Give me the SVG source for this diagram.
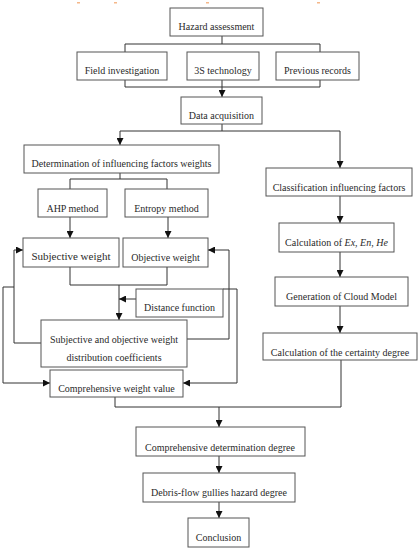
<svg xmlns="http://www.w3.org/2000/svg" width="420" height="550" viewBox="0 0 420 550">
<style>
.box{fill:#fff;stroke:#555;stroke-width:1}
.t{font-family:"Liberation Serif","Times New Roman",serif;font-size:10px;fill:#2a2a2a;text-anchor:middle}
.c{fill:none;stroke:#333;stroke-width:1}
.a{marker-end:url(#ah)}
</style>
<defs>
<marker id="ah" markerWidth="7" markerHeight="7" refX="7" refY="3.5" orient="auto" markerUnits="userSpaceOnUse">
<path d="M0,0 L7,3.5 L0,7 Z" fill="#111"/>
</marker>
</defs>
<rect width="420" height="550" fill="#fff"/>
<g fill="#f5b88a">
<rect x="77" y="2" width="3" height="1.5"/><rect x="114" y="2" width="3" height="1.5"/><rect x="206" y="2" width="3" height="1.5"/><rect x="317" y="2" width="3" height="1.5"/>
</g>
<g id="connectors">
<path class="c" d="M222 36 V44 M125 52 V44 H320 V52"/>
<path class="c" d="M125 80 V87 H320 V80"/>
<path class="c a" d="M222 80 V97"/>
<path class="c" d="M222 124 V131 M120 131 H340"/>
<path class="c a" d="M120 131 V145"/>
<path class="c a" d="M340 131 V168"/>
<path class="c" d="M120 173 V179 M70 189 V179 H167 V189"/>
<path class="c a" d="M70 217 V238"/>
<path class="c a" d="M168 217 V238"/>
<path class="c" d="M70 267 V285 H167 V267"/>
<path class="c a" d="M119 285 V320"/>
<path class="c a" d="M136 299 H119"/>
<path class="c a" d="M41 343 H14 V250 H23"/>
<path class="c a" d="M187 339 H229 V250 H208"/>
<path class="c a" d="M14 287 H3 V383 H50"/>
<path class="c a" d="M223 289 H237 V383 H183"/>
<path class="c a" d="M340 196 V223"/>
<path class="c a" d="M340 252 V277"/>
<path class="c a" d="M340 306 V333"/>
<path class="c" d="M115 397 V407 H341 V360"/>
<path class="c a" d="M219 407 V427"/>
<path class="c a" d="M219 456 V473"/>
<path class="c a" d="M219 502 V518"/>
</g>
<g id="hazard"><rect class="box" x="170" y="8" width="93" height="28"/><text class="t" x="216.5" y="29.5">Hazard assessment</text></g>
<g id="field"><rect class="box" x="77" y="52" width="90" height="28"/><text class="t" x="122" y="73.5">Field investigation</text></g>
<g id="tech3s"><rect class="box" x="187" y="52" width="72" height="28"/><text class="t" x="223" y="74">3S technology</text></g>
<g id="previous"><rect class="box" x="276" y="52" width="83" height="28"/><text class="t" x="317.5" y="73.5">Previous records</text></g>
<g id="data"><rect class="box" x="181" y="97" width="81" height="27"/><text class="t" x="221.5" y="118.5">Data acquisition</text></g>
<g id="determination"><rect class="box" x="24" y="145" width="195" height="28"/><text class="t" x="121.5" y="166.5">Determination of influencing factors weights</text></g>
<g id="classification"><rect class="box" x="266" y="168" width="146" height="28"/><text class="t" x="339" y="190.5">Classification influencing factors</text></g>
<g id="ahp"><rect class="box" x="38" y="189" width="69" height="28"/><text class="t" x="72.5" y="211.5">AHP method</text></g>
<g id="entropy"><rect class="box" x="125" y="189" width="83" height="28"/><text class="t" x="166.5" y="211.5">Entropy method</text></g>
<g id="subjective"><rect class="box" x="23" y="238" width="96" height="29"/><text class="t" x="71" y="260" style="font-size:11px">Subjective weight</text></g>
<g id="objective"><rect class="box" x="123" y="238" width="85" height="29"/><text class="t" x="165.5" y="260.5">Objective weight</text></g>
<g id="calcex"><rect class="box" x="279" y="223" width="115" height="29"/><text class="t" x="336.5" y="245.5">Calculation of <tspan font-style="italic">Ex</tspan>, <tspan font-style="italic">En</tspan>, <tspan font-style="italic">He</tspan></text></g>
<g id="distance"><rect class="box" x="136" y="289" width="87" height="28"/><text class="t" x="179.5" y="310.5">Distance function</text></g>
<g id="generation"><rect class="box" x="275" y="277" width="133" height="29"/><text class="t" x="341.5" y="299.5">Generation of Cloud Model</text></g>
<g id="coefficients"><rect class="box" x="41" y="320" width="146" height="47"/><text class="t" x="114" y="342.5">Subjective and objective weight</text><text class="t" x="114" y="360.5">distribution coefficients</text></g>
<g id="certainty"><rect class="box" x="263" y="333" width="154" height="27"/><text class="t" x="340" y="355.5">Calculation of the certainty degree</text></g>
<g id="compweight"><rect class="box" x="50" y="370" width="133" height="27"/><text class="t" x="116.5" y="391.5">Comprehensive weight value</text></g>
<g id="compdet"><rect class="box" x="136" y="427" width="169" height="29"/><text class="t" x="220" y="450.5">Comprehensive determination degree</text></g>
<g id="debris"><rect class="box" x="143" y="473" width="152" height="29"/><text class="t" x="219" y="495.5">Debris-flow gullies hazard degree</text></g>
<g id="conclusion"><rect class="box" x="188" y="518" width="61" height="29"/><text class="t" x="218.5" y="540.5">Conclusion</text></g>
</svg>
